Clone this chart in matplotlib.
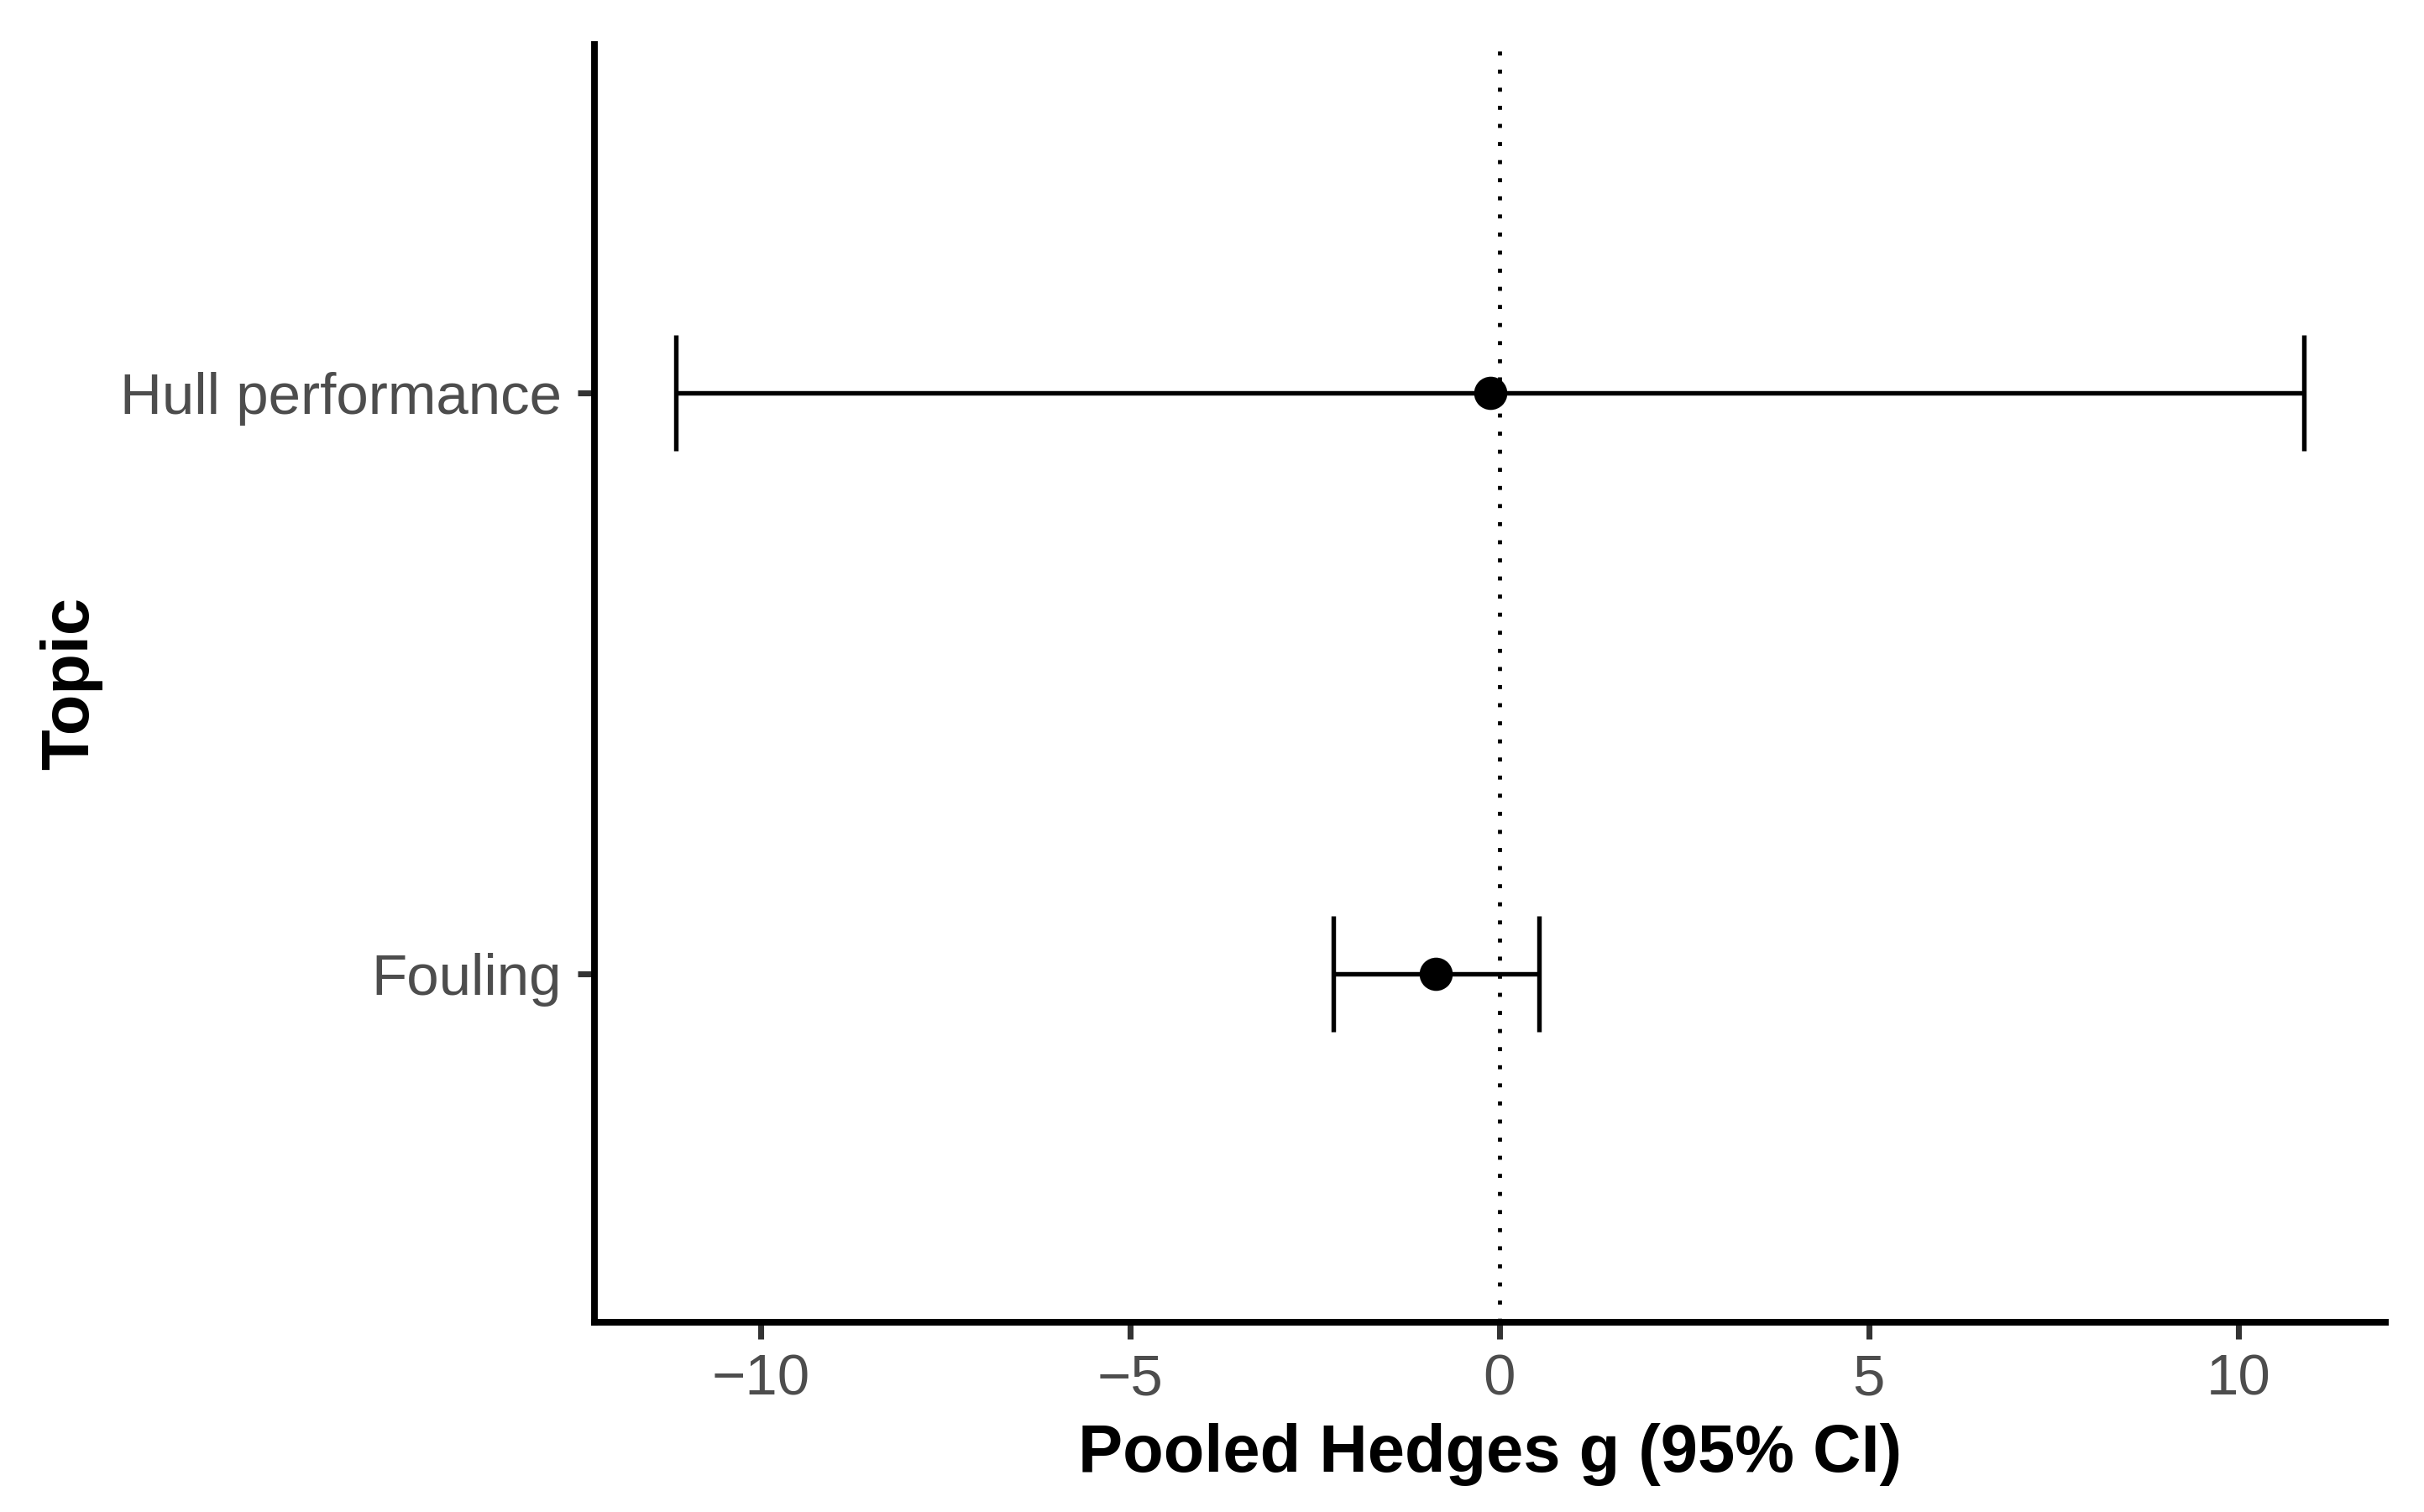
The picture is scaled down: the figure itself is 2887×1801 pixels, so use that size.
import matplotlib
matplotlib.use("Agg")
import matplotlib.pyplot as plt
import numpy as np

# Data
topics = ["Fouling", "Hull performance"]
estimate = [-0.86, -0.13]
ci_lower = [-2.245, -11.15]
ci_upper = [0.532, 10.89]

plt.rcParams['font.family'] = ['Liberation Sans', 'DejaVu Sans']

fig = plt.figure(figsize=(2887 / 300, 1801 / 300), dpi=300)
ax = fig.add_axes([708 / 2887, 1 - 1575 / 1801, (2841 - 708) / 2887, (1575 - 53) / 1801])

ypos = np.arange(len(topics))
est = np.array(estimate)
lo = np.array(ci_lower)
hi = np.array(ci_upper)

ax.axvline(0, color="black", lw=1.15, linestyle=(0, (1, 3.5)), dash_capstyle="butt", zorder=1)

ax.errorbar(est, ypos, xerr=[est - lo, hi - est], fmt="none", ecolor="black",
            elinewidth=1.3, capsize=16.5, capthick=1.3, zorder=2)
ax.plot(est, ypos, "o", color="black", markersize=9.5, markeredgewidth=0, zorder=3)

xmin, xmax = lo.min(), hi.max()
pad = 0.05 * (xmax - xmin)
ax.set_xlim(xmin - pad, xmax + pad)
ax.set_ylim(-0.6, len(topics) - 1 + 0.6)

ax.set_xticks([-10, -5, 0, 5, 10])
ax.set_yticks(ypos)
ax.set_yticklabels(topics)

for s in ["top", "right"]:
    ax.spines[s].set_visible(False)
for s in ["left", "bottom"]:
    ax.spines[s].set_linewidth(1.9)
    ax.spines[s].set_color("black")
    ax.spines[s].set_capstyle("projecting")

ax.tick_params(axis="both", which="major", length=4.8, width=1.7, color="#333333",
               labelsize=16.6, labelcolor="#4D4D4D")
ax.tick_params(axis="x", pad=4)
ax.tick_params(axis="y", pad=4.5)

ax.set_xlabel("Pooled Hedges g (95% CI)", fontsize=19.1, fontweight="bold", labelpad=4.6)
ax.set_ylabel("Topic", fontsize=19.1, fontweight="bold", labelpad=5)

fig.savefig("out.png", dpi=300)
